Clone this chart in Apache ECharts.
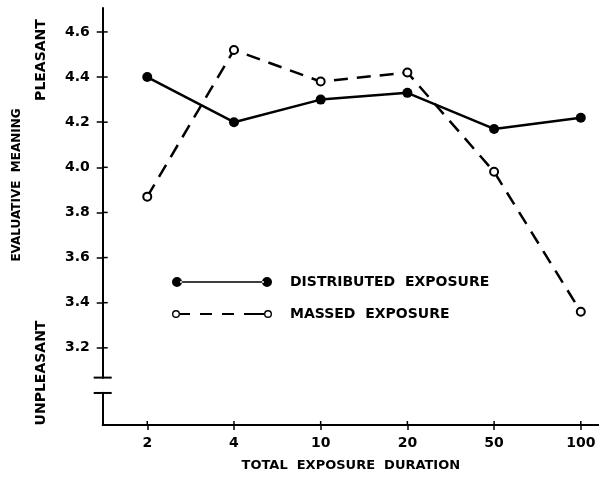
<!DOCTYPE html>
<html>
<head>
<meta charset="utf-8">
<script src="https://cdn.jsdelivr.net/npm/echarts@6/dist/echarts.min.js"></script>
<style>
html,body{margin:0;padding:0;background:#fff;}
#c{width:599px;height:481px;}
</style>
</head>
<body>
<div id="c"></div>
<script>
// ---- data ----
const categories = ['2', '4', '10', '20', '50', '100'];
const distributed = [4.40, 4.20, 4.30, 4.33, 4.17, 4.22];
const massed = [3.87, 4.52, 4.38, 4.42, 3.98, 3.36];
const yTicks = [3.2, 3.4, 3.6, 3.8, 4.0, 4.2, 4.4, 4.6];
const seriesNames = ['DISTRIBUTED  EXPOSURE', 'MASSED  EXPOSURE'];

const FONT = 'DejaVu Sans';
const X_MIN = -0.514, X_MAX = 5.21;
const Y_MIN = 2.858, Y_MAX = 4.706;
const xIdx = categories.map((c, i) => i);

const distIcon = 'path://M0,5a5,5 0 1,0 10,0a5,5 0 1,0 -10,0Z M90,5a5,5 0 1,0 10,0a5,5 0 1,0 -10,0Z M8,4.2L92,4.2L92,5.8L8,5.8Z';
const massIcon = 'path://M50,0L50.01,0L50,0.01Z M50,10L50.01,10L50,9.99Z ' +
  'M0,5a4,4 0 1,0 8,0a4,4 0 1,0 -8,0Z M1.4,5a2.6,2.6 0 1,1 5.2,0a2.6,2.6 0 1,1 -5.2,0Z ' +
  'M92,5a4,4 0 1,0 8,0a4,4 0 1,0 -8,0Z M93.4,5a2.6,2.6 0 1,1 5.2,0a2.6,2.6 0 1,1 -5.2,0Z ' +
  'M8,4.1L18,4.1L18,5.9L8,5.9Z M28,4.1L40,4.1L40,5.9L28,5.9Z M50,4.1L62,4.1L62,5.9L50,5.9Z M72,4.1L92,4.1L92,5.9L72,5.9Z';

const chart = echarts.init(document.getElementById('c'), null, {renderer: 'canvas'});

const labelStyle = {color: '#000', fontFamily: FONT, fontWeight: 'bold', fontSize: 14};

const option = {
  animation: false,
  backgroundColor: '#fff',
  grid: {left: 102.7, right: 0, top: 8, bottom: 56},
  legend: {
    orient: 'vertical',
    left: 172, top: 275, padding: 0,
    itemWidth: 100, itemHeight: 10, itemGap: 18,
    itemStyle: {color: '#000', borderColor: '#000', borderWidth: 0},
    textStyle: {color: '#000', fontFamily: FONT, fontWeight: 'bold', fontSize: 14, padding: [0, 0, 0, 13]},
    data: [
      {name: seriesNames[0], icon: distIcon},
      {name: seriesNames[1], icon: massIcon}
    ]
  },
  xAxis: {
    type: 'value', min: X_MIN, max: X_MAX, position: 'bottom',
    name: 'TOTAL  EXPOSURE  DURATION', nameLocation: 'middle', nameGap: 34,
    nameTextStyle: {color: '#000', fontFamily: FONT, fontWeight: 'bold', fontSize: 13},
    axisLine: {show: true, onZero: false, lineStyle: {color: '#000', width: 2}},
    axisTick: {show: true, inside: false, length: 5, customValues: xIdx.slice(), lineStyle: {color: '#000', width: 1.5}},
    axisLabel: Object.assign({customValues: xIdx.slice(), margin: 11, formatter: v => categories[Math.round(v)]}, labelStyle),
    splitLine: {show: false}
  },
  yAxis: {
    type: 'value', min: Y_MIN, max: Y_MAX, position: 'left',
    axisLine: {show: true, onZero: false, lineStyle: {color: '#000', width: 2}},
    axisTick: {show: true, inside: false, length: 6, customValues: yTicks.slice(), lineStyle: {color: '#000', width: 1.5}},
    axisLabel: Object.assign({customValues: yTicks.slice(), margin: 13, formatter: v => v.toFixed(1)}, labelStyle),
    splitLine: {show: false}
  },
  series: [{
    name: seriesNames[0], type: 'line',
    data: distributed.map((v, i) => [xIdx[i], v]),
    symbol: 'circle', symbolSize: 10,
    itemStyle: {color: '#000'},
    lineStyle: {color: '#000', width: 2.5}
  }, {
    name: seriesNames[1], type: 'line',
    data: massed.map((v, i) => [xIdx[i], v]),
    symbol: 'emptyCircle', symbolSize: 8,
    itemStyle: {color: '#000', borderWidth: 1.5},
    lineStyle: {color: '#000', width: 2.5, type: [14, 9]}
  }]
};
chart.setOption(option);

// inner halves of the crossing ticks, axis break and side texts (positions from the chart's own scales)
const toPx = (x, y) => chart.convertToPixel({gridIndex: 0}, [x, y]);
const graphics = [];
yTicks.forEach(v => {
  const p = toPx(X_MIN, v);
  graphics.push({type: 'line', z: 50, shape: {x1: p[0], y1: p[1], x2: p[0] + 5, y2: p[1]}, style: {stroke: '#000', lineWidth: 1.5}});
});
xIdx.forEach(i => {
  const p = toPx(i, Y_MIN);
  graphics.push({type: 'line', z: 50, shape: {x1: p[0], y1: p[1], x2: p[0], y2: p[1] - 4}, style: {stroke: '#000', lineWidth: 1.5}});
});
const pTop = toPx(X_MIN, 3.068);
const pBot = toPx(X_MIN, 3.0);
graphics.push(
  {type: 'rect', z: 100, shape: {x: pTop[0] - 4, y: pTop[1] + 1, width: 8, height: pBot[1] - pTop[1] - 2}, style: {fill: '#fff'}},
  {type: 'line', z: 101, shape: {x1: pTop[0] - 9, y1: pTop[1], x2: pTop[0] + 9, y2: pTop[1]}, style: {stroke: '#000', lineWidth: 2}},
  {type: 'line', z: 101, shape: {x1: pBot[0] - 9, y1: pBot[1], x2: pBot[0] + 9, y2: pBot[1]}, style: {stroke: '#000', lineWidth: 2}}
);
const sideStyle = {fill: '#000', font: 'bold 14px "DejaVu Sans"', textAlign: 'center', textVerticalAlign: 'middle'};
graphics.push(
  {type: 'text', x: 17, y: 185, rotation: Math.PI / 2, style: Object.assign({}, sideStyle, {text: 'EVALUATIVE  MEANING', font: 'bold 12px "DejaVu Sans"'})},
  {type: 'text', x: 41, y: 60, rotation: Math.PI / 2, style: Object.assign({}, sideStyle, {text: 'PLEASANT'})},
  {type: 'text', x: 41, y: 373, rotation: Math.PI / 2, style: Object.assign({}, sideStyle, {text: 'UNPLEASANT'})}
);
chart.setOption({graphic: graphics});
</script>
</body>
</html>
